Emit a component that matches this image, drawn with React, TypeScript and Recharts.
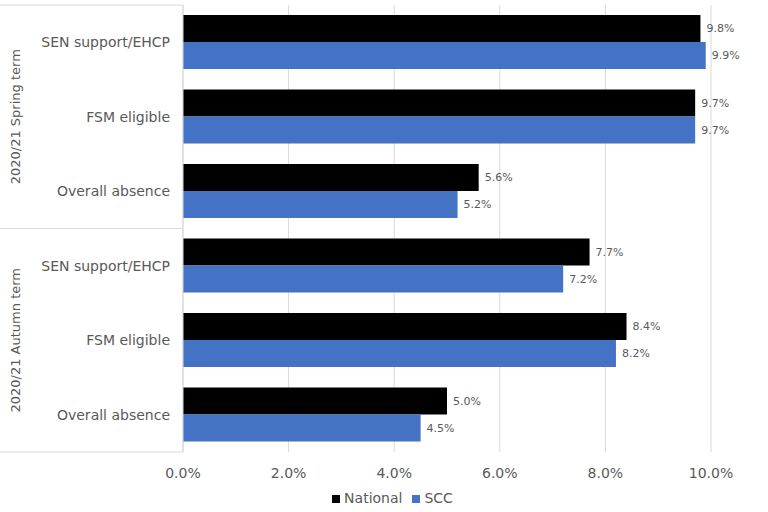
import { Bar, BarChart, CartesianGrid, LabelList, Legend, XAxis, YAxis } from "recharts";

const groups = ["2020/21 Spring term", "2020/21 Autumn term"];
const measures = ["SEN support/EHCP", "FSM eligible", "Overall absence"];
const national = [9.8, 9.7, 5.6, 7.7, 8.4, 5.0];
const scc = [9.9, 9.7, 5.2, 7.2, 8.2, 4.5];
const xTicks = [0, 2, 4, 6, 8, 10];

const rows = groups.flatMap((g, gi) =>
  measures.map((m, mi) => {
    const i = gi * measures.length + mi;
    return { key: `${g}|${m}`, group: g, measure: m, national: national[i], scc: scc[i] };
  })
);

const W = 768;
const H = 512;
const TOP = 5;
const BOTTOM = 60;
const AXIS_W = 183;
const BAND = (H - TOP - BOTTOM) / rows.length;
const FONT = "DejaVu Sans, Verdana, sans-serif";
const GREY = "#595959";
const LINE = "#d9d9d9";

function CategoryTick(props: any) {
  const { y, index } = props;
  const row = rows[index];
  const mi = index % measures.length;
  return (
    <g>
      <text x={AXIS_W - 13} y={y} dy={5} textAnchor="end" fontSize={14} fill={GREY} fontFamily={FONT}>
        {row.measure}
      </text>
      {mi === 0 && <line x1={0} x2={AXIS_W} y1={y - BAND / 2} y2={y - BAND / 2} stroke={LINE} />}
      {index === rows.length - 1 && (
        <line x1={0} x2={AXIS_W} y1={y + BAND / 2} y2={y + BAND / 2} stroke={LINE} />
      )}
      {mi === 1 && (
        <text
          x={15}
          y={y}
          dy={5}
          textAnchor="middle"
          fontSize={13}
          fill={GREY}
          fontFamily={FONT}
          transform={`rotate(-90 15 ${y})`}
        >
          {row.group}
        </text>
      )}
    </g>
  );
}

const pct = (v: any) => `${Number(v).toFixed(1)}%`;

export default function App() {
  return (
    <div style={{ position: "absolute", left: 0, top: 0, background: "#fff" }}>
      <BarChart
        width={W}
        height={H}
        data={rows}
        layout="vertical"
        margin={{ top: TOP, right: 57, left: 0, bottom: 0 }}
        barSize={27}
        barGap={0}
      >
        <CartesianGrid horizontal={false} stroke={LINE} />
        <XAxis
          type="number"
          domain={[0, 10]}
          ticks={xTicks}
          tickFormatter={pct}
          axisLine={false}
          tickLine={false}
          height={30}
          tickMargin={10}
          tick={{ fontSize: 14, fill: GREY, fontFamily: FONT }}
        />
        <YAxis
          type="category"
          dataKey="key"
          width={AXIS_W}
          axisLine={{ stroke: LINE }}
          tickLine={false}
          tick={<CategoryTick />}
          interval={0}
        />
        <Legend
          verticalAlign="bottom"
          iconType="square"
          iconSize={8}
          height={30}
          wrapperStyle={{ fontSize: 14, fontFamily: FONT, color: GREY, left: 42, bottom: -8 }}
          formatter={(v: any) => <span style={{ color: GREY }}>{v}</span>}
        />
        <Bar dataKey="national" name="National" fill="#000000" isAnimationActive={false}>
          <LabelList dataKey="national" position="right" offset={6} formatter={pct} fontSize={11} fill={GREY} fontFamily={FONT} />
        </Bar>
        <Bar dataKey="scc" name="SCC" fill="#4472C4" isAnimationActive={false}>
          <LabelList dataKey="scc" position="right" offset={6} formatter={pct} fontSize={11} fill={GREY} fontFamily={FONT} />
        </Bar>
      </BarChart>
    </div>
  );
}
